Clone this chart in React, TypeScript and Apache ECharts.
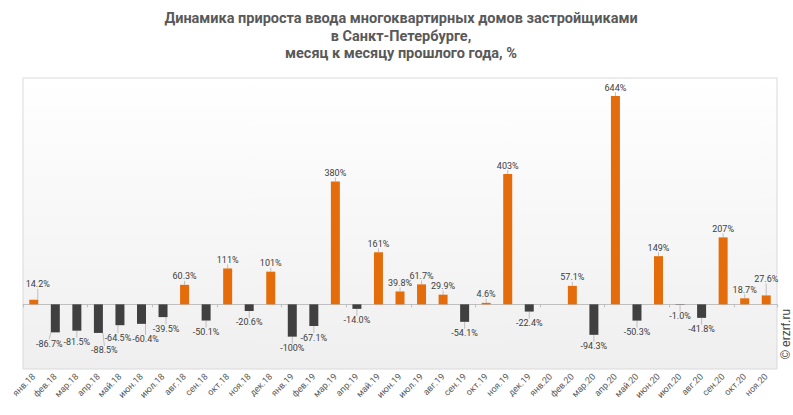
import React, { useEffect, useRef } from "react";
import * as echarts from "echarts";

const categories = [
  "янв.18", "фев.18", "мар.18", "апр.18", "май.18", "июн.18", "июл.18", "авг.18", "сен.18", "окт.18", "ноя.18", "дек.18",
  "янв.19", "фев.19", "мар.19", "апр.19", "май.19", "июн.19", "июл.19", "авг.19", "сен.19", "окт.19", "ноя.19", "дек.19",
  "янв.20", "фев.20", "мар.20", "апр.20", "май.20", "июн.20", "июл.20", "авг.20", "сен.20", "окт.20", "ноя.20",
];

const values: (number | null)[] = [
  14.2, -86.7, -81.5, -88.5, -64.5, -60.4, -39.5, 60.3, -50.1, 111, -20.6, 101,
  -100, -67.1, 380, -14.0, 161, 39.8, 61.7, 29.9, -54.1, 4.6, 403, -22.4,
  null, 57.1, -94.3, 644, -50.3, 149, -1.0, -41.8, 207, 18.7, 27.6,
];

const yTicks = { min: -200, max: 700 };

// label nudges (index -> offset) for labels moved in the reference
const labelShift: Record<number, { dx?: number; dy?: number }> = {
  0: { dx: 4, dy: -7 },
  1: { dx: -6 },
  3: { dx: 6, dy: 6 },
  4: { dx: -2, dy: 1 },
  5: { dx: 4, dy: 4 },
  6: { dx: 3 },
  34: { dy: -8 },
};

const POS = "#E46C0A";
const NEG = "#404040";

export default function App() {
  const ref = useRef<HTMLDivElement>(null);
  useEffect(() => {
    document.body.style.margin = "0";
    const chart = echarts.init(ref.current!, undefined, { renderer: "svg" });
    const data = values.map((v) =>
      v === null
        ? null
        : {
            value: v,
            itemStyle: { color: v >= 0 ? POS : NEG },
            label: { position: v >= 0 ? "top" : "bottom", distance: v >= 0 ? 4 : 7 },
          }
    );
    chart.setOption({
      animation: false,
      backgroundColor: "#ffffff",
      title: {
        text: "Динамика прироста ввода многоквартирных домов застройщиками\nв Санкт-Петербурге,\nмесяц к месяцу прошлого года, %",
        left: 396,
        top: 5,
        textAlign: "center",
        textStyle: {
          fontFamily: "Roboto",
          fontWeight: "bold",
          fontSize: 14.5,
          lineHeight: 17.5,
          color: "#595959",
        },
      },
      grid: {
        left: 23,
        right: 16,
        top: 78,
        bottom: 46,
        show: true,
        borderColor: "#d9d9d9",
        borderWidth: 1,
        backgroundColor: new echarts.graphic.LinearGradient(0, 0, 0, 1, [
          { offset: 0, color: "#ffffff" },
          { offset: 1, color: "#efefef" },
        ]),
      },
      xAxis: [
        {
          type: "category",
          data: categories,
          position: "bottom",
          axisLine: { show: false, onZero: false },
          axisTick: { show: false },
          axisLabel: {
            rotate: 45,
            interval: 0,
            fontSize: 9,
            fontFamily: "Roboto",
            color: "#595959",
            margin: 6,
          },
        },
        {
          type: "category",
          data: categories,
          position: "bottom",
          axisLine: { show: true, onZero: true, lineStyle: { color: "#bfbfbf", width: 1 } },
          axisTick: { show: true, length: 3, lineStyle: { color: "#bfbfbf" } },
          axisLabel: { show: false },
        },
      ],
      yAxis: {
        type: "value",
        min: yTicks.min,
        max: yTicks.max,
        show: false,
        splitLine: { show: false },
      },
      series: [
        {
          type: "bar",
          xAxisIndex: 0,
          data,
          barWidth: 9,
          label: {
            show: true,
            fontSize: 9,
            fontFamily: "Roboto",
            color: "#404040",
            formatter: (p: any) => {
              const v = p.value as number;
              return (Math.abs(v) >= 100 ? v.toFixed(0) : v.toFixed(1)) + "%";
            },
          },
          labelLine: { show: true, lineStyle: { color: "#bfbfbf", width: 1 } },
          labelLayout: (p: any) => {
            const s = labelShift[p.dataIndex];
            return s ? { dx: s.dx || 0, dy: s.dy || 0 } : {};
          },
        },
      ],
      graphic: [
        {
          type: "text",
          x: 786,
          y: 334,
          rotation: Math.PI / 2,
          style: {
            text: "© erzrf.ru",
            fontSize: 12,
            fontFamily: "Liberation Sans",
            fill: "#404040",
            align: "center",
            verticalAlign: "middle",
          },
        },
      ],
    });
    return () => chart.dispose();
  }, []);
  return <div ref={ref} style={{ width: 793, height: 415 }} />;
}
